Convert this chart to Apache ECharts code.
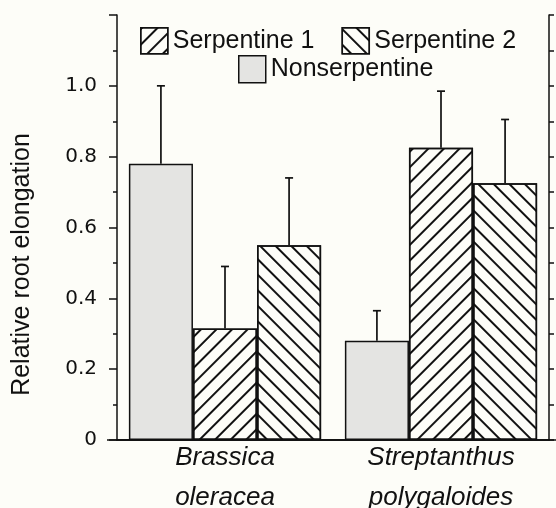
<!DOCTYPE html>
<html>
<head>
<meta charset="utf-8">
<script src="https://cdn.jsdelivr.net/npm/echarts@6/dist/echarts.min.js"></script>
<style>
  html, body { margin: 0; padding: 0; background: #fdfdf8; }
  #chart { width: 556px; height: 508px; }
</style>
</head>
<body>
<div id="chart"></div>
<script>
// categories (two species) and relative root elongation per soil type
const categories = ['Brassica\noleracea', 'Streptanthus\npolygaloides'];
const nonserpentine = [0.78, 0.28];
const nonserpentineErr = [0.22, 0.085];
const serpentine1 = [0.315, 0.825];
const serpentine1Err = [0.175, 0.16];
const serpentine2 = [0.55, 0.725];
const serpentine2Err = [0.19, 0.18];
const yTicks = [0, 0.2, 0.4, 0.6, 0.8, 1.0];

const ink = '#111'
const barGapPct = 11   // barCategoryGap in %

const hatch = (rot) => ({
  symbol: 'rect',
  symbolSize: 1,
  color: ink,
  dashArrayX: [1, 0],
  dashArrayY: [1.4, 8.1],
  rotation: rot
})

// error bar (upper whisker only) for bar k of 3 in each group
const errSeries = (name, vals, errs, k) => ({
  name: name,
  type: 'custom',
  z: 5,
  data: vals.map((v, i) => [i, v, errs[i]]),
  encode: { x: 0, y: 1 },
  renderItem: function (params, api) {
    const band = api.size([1, 0])[0]
    const bw = band * (1 - barGapPct / 100) / 3
    const base = api.coord([api.value(0), api.value(1)])
    const top = api.coord([api.value(0), api.value(1) + api.value(2)])
    const x = base[0] + (k - 1) * bw
    const style = { stroke: ink, lineWidth: 1.7 }
    return {
      type: 'group',
      children: [
        { type: 'line', shape: { x1: x, y1: base[1], x2: x, y2: top[1] }, style: style },
        { type: 'line', shape: { x1: x - 4, y1: top[1], x2: x + 4, y2: top[1] }, style: style }
      ]
    }
  }
})

const chart = echarts.init(document.getElementById('chart'))

const barStyle = (fill, decal) => {
  const s = { color: fill, borderColor: ink, borderWidth: 1.5 }
  if (decal) s.decal = decal
  return s
}

const legendText = { fontSize: 25, fontFamily: 'Liberation Sans', color: ink }

const option = {
  backgroundColor: '#fdfdf8',
  animation: false,
  grid: { left: 117, right: 7, top: 15, bottom: 68, outerBoundsMode: 'none', containLabel: false },
  legend: [
    {
      data: ['Serpentine 1', 'Serpentine 2'],
      left: 140, top: 27, padding: 0,
      itemWidth: 27, itemHeight: 26, itemGap: 27,
      icon: 'rect',
      itemStyle: { borderColor: ink, borderWidth: 1.5 },
      textStyle: legendText
    },
    {
      data: ['Nonserpentine'],
      left: 238, top: 55, padding: 0,
      itemWidth: 27, itemHeight: 27,
      icon: 'rect',
      itemStyle: { borderColor: ink, borderWidth: 1.5 },
      textStyle: legendText
    }
  ],
  xAxis: [
    {
      type: 'category',
      position: 'bottom',
      data: categories,
      axisLine: { lineStyle: { color: ink, width: 1.5 } },
      axisTick: { show: false },
      axisLabel: {
        fontFamily: 'Liberation Sans', fontStyle: 'italic', fontSize: 26,
        lineHeight: 40, color: ink, margin: -2
      }
    },
    {
      type: 'category',
      position: 'top',
      data: categories,
      axisLine: { lineStyle: { color: ink, width: 1.5 } },
      axisTick: { show: true, alignWithLabel: true, length: 5, lineStyle: { width: 1.5 } },
      axisLabel: { show: false }
    }
  ],
  yAxis: [
    {
      type: 'value',
      position: 'left',
      min: 0, max: 1.2, interval: 0.2,
      name: 'Relative root elongation',
      nameLocation: 'middle',
      nameGap: 82,
      nameTextStyle: { fontSize: 25, fontFamily: 'Liberation Sans', color: ink, padding: [0, 74, 0, 0] },
      axisLine: { show: true, lineStyle: { color: ink, width: 1.5 } },
      axisTick: { show: true, length: 8, lineStyle: { width: 1.5 } },
      minorTick: { show: true, splitNumber: 2, length: 4, lineStyle: { color: ink, width: 1.5 } },
      splitLine: { show: false },
      axisLabel: {
        margin: 20, fontSize: 20, fontFamily: 'DejaVu Sans', color: ink,
        formatter: (v) => {
          const t = yTicks.find(y => Math.abs(y - v) < 1e-6)
          if (t === undefined) return ''
          return t === 0 ? '0' : t.toFixed(1)
        }
      }
    },
    {
      type: 'value',
      position: 'right',
      min: 0, max: 1.2, interval: 0.1,
      axisLine: { show: true, lineStyle: { color: ink, width: 1.5 } },
      axisTick: { show: true, length: 5, lineStyle: { width: 1.5 } },
      splitLine: { show: false },
      axisLabel: { show: false }
    }
  ],
  series: [
    {
      name: 'Nonserpentine', type: 'bar', data: nonserpentine,
      barGap: '0%', barCategoryGap: barGapPct + '%',
      itemStyle: barStyle('#e4e4e2')
    },
    {
      name: 'Serpentine 1', type: 'bar', data: serpentine1,
      itemStyle: barStyle('#fdfdf8', hatch(-Math.PI / 4))
    },
    {
      name: 'Serpentine 2', type: 'bar', data: serpentine2,
      itemStyle: barStyle('#fdfdf8', hatch(Math.PI / 4))
    },
    errSeries('errNon', nonserpentine, nonserpentineErr, 0),
    errSeries('errS1', serpentine1, serpentine1Err, 1),
    errSeries('errS2', serpentine2, serpentine2Err, 2)
  ]
}

chart.setOption(option)

// the printed baseline runs a little past both sides of the frame
const y0 = chart.convertToPixel({ yAxisIndex: 0 }, 0)
chart.setOption({
  graphic: [{
    type: 'line', z: 10,
    shape: { x1: 107, y1: y0, x2: 556, y2: y0 },
    style: { stroke: ink, lineWidth: 1.5 }
  }]
})
</script>
</body>
</html>
